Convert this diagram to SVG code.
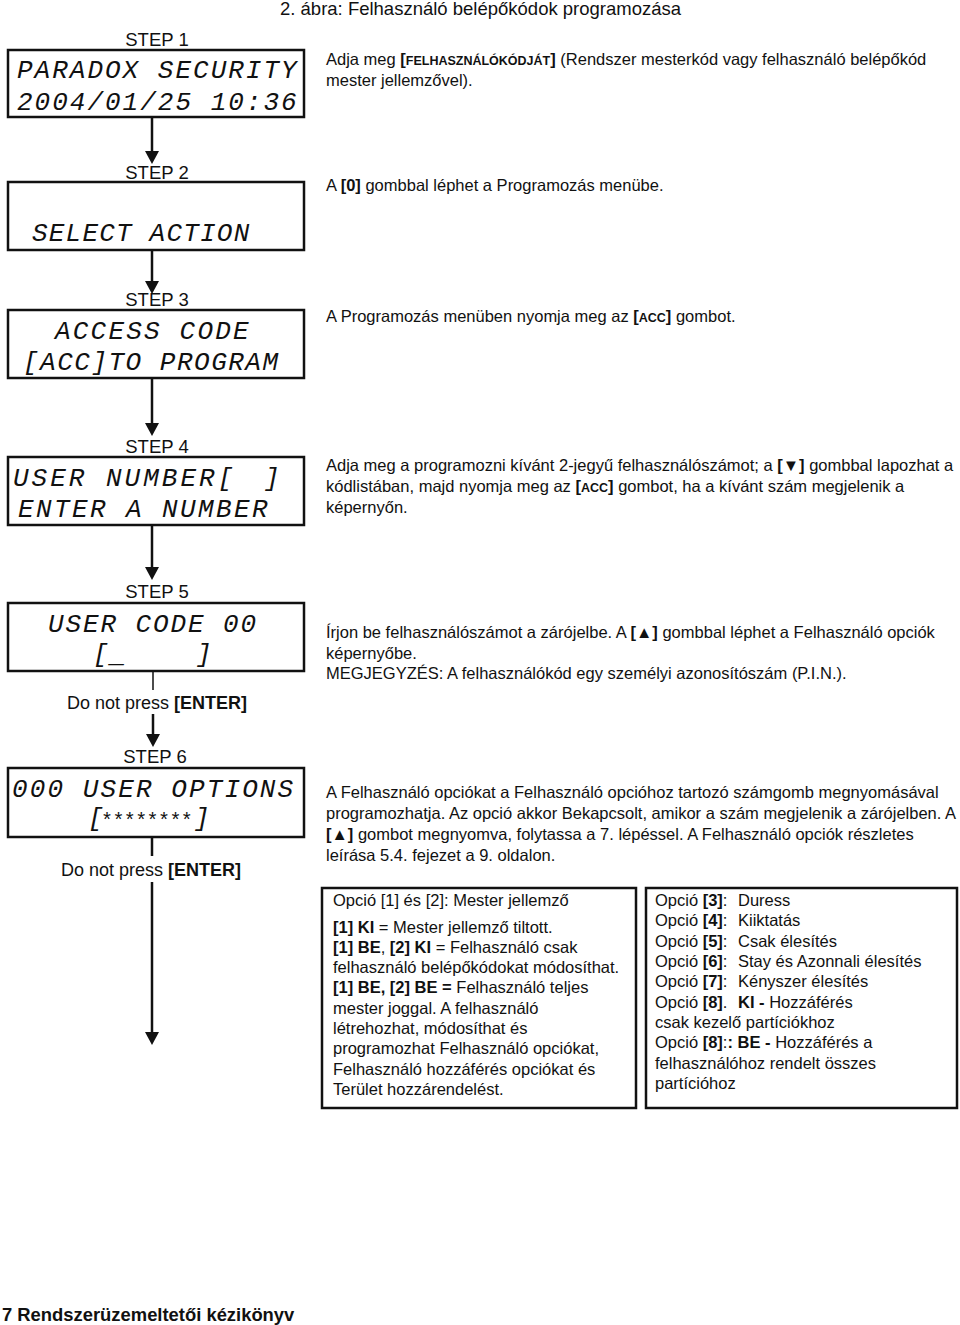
<svg xmlns="http://www.w3.org/2000/svg" width="960" height="1325" viewBox="0 0 960 1325">
<style>
.bg{fill:#fff}
.lcd{fill:#fff;stroke:#111;stroke-width:2.5}
.seg{font-family:"Liberation Mono","DejaVu Sans Mono",monospace;font-style:italic;font-size:26px;fill:#111}
.step{font-family:"Liberation Sans",Arial,sans-serif;font-size:18.5px;fill:#111;text-anchor:middle}
.dnp{font-family:"Liberation Sans",Arial,sans-serif;font-size:18px;fill:#111;text-anchor:middle}
.t{font-family:"Liberation Sans",Arial,sans-serif;font-size:16.5px;fill:#111}
.b{font-weight:bold}
.sc{font-weight:bold;font-size:12.5px}
.box{fill:#fff;stroke:#111;stroke-width:2.5}
.con{stroke:#111;stroke-width:2.5;fill:none}
.thin{stroke:#111;stroke-width:1.5;fill:none}
.foot{font-family:"Liberation Sans",Arial,sans-serif;font-size:18.4px;font-weight:bold;fill:#111}
</style>
<defs>
<marker id="ah" markerWidth="14" markerHeight="14" refX="7" refY="7" orient="auto" markerUnits="userSpaceOnUse">
<path d="M0,0 L13,7 L0,14 z" fill="#111"/>
</marker>
</defs>
<rect class="bg" x="0" y="0" width="960" height="1325"/>

<g id="connectors">
<line class="con" x1="152" y1="118" x2="152" y2="158" marker-end="url(#ah)"/>
<line class="con" x1="152" y1="250" x2="152" y2="288" marker-end="url(#ah)"/>
<line class="con" x1="152" y1="378" x2="152" y2="430" marker-end="url(#ah)"/>
<line class="con" x1="152" y1="525" x2="152" y2="574" marker-end="url(#ah)"/>
<line class="thin" x1="153" y1="671" x2="153" y2="690"/>
<line class="con" x1="153" y1="714" x2="153" y2="741" marker-end="url(#ah)"/>
<line class="con" x1="152" y1="837" x2="152" y2="856"/>
<line class="con" x1="152" y1="882" x2="152" y2="1039" marker-end="url(#ah)"/>
</g>

<g id="title">
<text class="t" x="280" y="15" style="font-size:18.5px">2. ábra:  Felhasználó belépőkódok programozása</text>
</g>

<g id="step1">
<text class="step" x="157" y="46">STEP 1</text>
<rect class="lcd" x="8" y="50" width="296" height="67"/>
<text class="seg" x="17" y="78" letter-spacing="2">PARADOX SECURITY</text>
<text class="seg" x="17" y="110" letter-spacing="2">2004/01/25 10:36</text>
<text class="t" x="326" y="65">Adja meg <tspan class="b">[</tspan><tspan class="sc">FELHASZNÁLÓKÓDJÁT</tspan><tspan class="b">]</tspan> (Rendszer mesterkód vagy felhasználó belépőkód</text>
<text class="t" x="326" y="86">mester jellemzővel).</text>
</g>

<g id="step2">
<text class="step" x="157" y="179">STEP 2</text>
<rect class="lcd" x="8" y="182" width="296" height="68"/>
<text class="seg" x="32" y="241" letter-spacing="1.2">SELECT ACTION</text>
<text class="t" x="326" y="191">A <tspan class="b">[0]</tspan> gombbal léphet a Programozás menübe.</text>
</g>

<g id="step3">
<text class="step" x="157" y="306">STEP 3</text>
<rect class="lcd" x="8" y="310" width="296" height="68"/>
<text class="seg" x="55" y="339" letter-spacing="2.2">ACCESS CODE</text>
<text class="seg" x="23" y="370" letter-spacing="1.5">[ACC]TO PROGRAM</text>
<text class="t" x="326" y="322">A Programozás menüben nyomja meg az <tspan class="b">[</tspan><tspan class="sc">ACC</tspan><tspan class="b">]</tspan> gombot.</text>
</g>

<g id="step4">
<text class="step" x="157" y="453">STEP 4</text>
<rect class="lcd" x="8" y="457" width="296" height="68"/>
<text class="seg" x="13" y="486" letter-spacing="3">USER NUMBER[</text>
<text class="seg" x="264" y="486">]</text>
<text class="seg" x="18" y="517" letter-spacing="2.4">ENTER A NUMBER</text>
<text class="t" x="326" y="471">Adja meg a programozni kívánt 2-jegyű felhasználószámot; a <tspan class="b">[▼]</tspan> gombbal lapozhat a</text>
<text class="t" x="326" y="492">kódlistában, majd nyomja meg az <tspan class="b">[</tspan><tspan class="sc">ACC</tspan><tspan class="b">]</tspan> gombot, ha a kívánt szám megjelenik a</text>
<text class="t" x="326" y="513">képernyőn.</text>
</g>

<g id="step5">
<text class="step" x="157" y="598">STEP 5</text>
<rect class="lcd" x="8" y="603" width="296" height="68"/>
<text class="seg" x="48" y="632" letter-spacing="1.9">USER CODE 00</text>
<text class="seg" x="93" y="662">[</text>
<text class="seg" x="110" y="662">_</text>
<text class="seg" x="196" y="662">]</text>
<text class="dnp" x="157" y="709">Do not press <tspan class="b">[ENTER]</tspan></text>
<text class="t" x="326" y="638">Írjon be felhasználószámot a zárójelbe. A <tspan class="b">[▲]</tspan> gombbal léphet a Felhasználó opciók</text>
<text class="t" x="326" y="659">képernyőbe.</text>
<text class="t" x="326" y="679">MEGJEGYZÉS: A felhasználókód egy személyi azonosítószám (P.I.N.).</text>
</g>

<g id="step6">
<text class="step" x="155" y="763">STEP 6</text>
<rect class="lcd" x="8" y="768" width="296" height="69"/>
<text class="seg" x="12" y="797" letter-spacing="2.1">000 USER OPTIONS</text>
<text class="seg" x="88" y="826">[</text>
<text class="seg" x="101" y="827" style="font-style:normal;font-size:20px" letter-spacing="-0.6">********</text>
<text class="seg" x="194" y="826">]</text>
<text class="dnp" x="151" y="876">Do not press <tspan class="b">[ENTER]</tspan></text>
<text class="t" x="326" y="798">A Felhasználó opciókat a Felhasználó opcióhoz tartozó számgomb megnyomásával</text>
<text class="t" x="326" y="819">programozhatja. Az opció akkor Bekapcsolt, amikor a szám megjelenik a zárójelben. A</text>
<text class="t" x="326" y="840"><tspan class="b">[▲]</tspan> gombot megnyomva, folytassa a 7. lépéssel. A Felhasználó opciók részletes</text>
<text class="t" x="326" y="861">leírása 5.4. fejezet a 9. oldalon.</text>
</g>

<g id="master-box">
<rect class="box" x="322" y="888" width="314" height="220"/>
<text class="t" x="333" y="906">Opció [1] és [2]: Mester jellemző</text>
<text class="t" x="333" y="933"><tspan class="b">[1] KI</tspan> = Mester jellemző tiltott.</text>
<text class="t" x="333" y="953"><tspan class="b">[1] BE</tspan>, <tspan class="b">[2] KI</tspan> = Felhasználó csak</text>
<text class="t" x="333" y="973">felhasználó belépőkódokat módosíthat.</text>
<text class="t" x="333" y="993"><tspan class="b">[1] BE, [2] BE =</tspan> Felhasználó teljes</text>
<text class="t" x="333" y="1014">mester joggal. A felhasználó</text>
<text class="t" x="333" y="1034">létrehozhat, módosíthat és</text>
<text class="t" x="333" y="1054">programozhat Felhasználó opciókat,</text>
<text class="t" x="333" y="1075">Felhasználó hozzáférés opciókat és</text>
<text class="t" x="333" y="1095">Terület hozzárendelést.</text>
</g>

<g id="options-box">
<rect class="box" x="646" y="888" width="311" height="220"/>
<text class="t" x="655" y="906">Opció <tspan class="b">[3]</tspan>:<tspan x="738">Duress</tspan></text>
<text class="t" x="655" y="926">Opció <tspan class="b">[4]</tspan>:<tspan x="738">Kiiktatás</tspan></text>
<text class="t" x="655" y="947">Opció <tspan class="b">[5]</tspan>:<tspan x="738">Csak élesítés</tspan></text>
<text class="t" x="655" y="967">Opció <tspan class="b">[6]</tspan>:<tspan x="738">Stay és Azonnali élesítés</tspan></text>
<text class="t" x="655" y="987">Opció <tspan class="b">[7]</tspan>:<tspan x="738">Kényszer élesítés</tspan></text>
<text class="t" x="655" y="1008">Opció <tspan class="b">[8]</tspan>.<tspan x="738" class="b">KI -</tspan> Hozzáférés</text>
<text class="t" x="655" y="1028">csak kezelő partíciókhoz</text>
<text class="t" x="655" y="1048">Opció <tspan class="b">[8]</tspan>:<tspan class="b">: BE -</tspan>  Hozzáférés a</text>
<text class="t" x="655" y="1069">felhasználóhoz rendelt összes</text>
<text class="t" x="655" y="1089">partícióhoz</text>
</g>

<g id="footer">
<text class="foot" x="2" y="1321">7 Rendszerüzemeltetői kézikönyv</text>
</g>
</svg>
